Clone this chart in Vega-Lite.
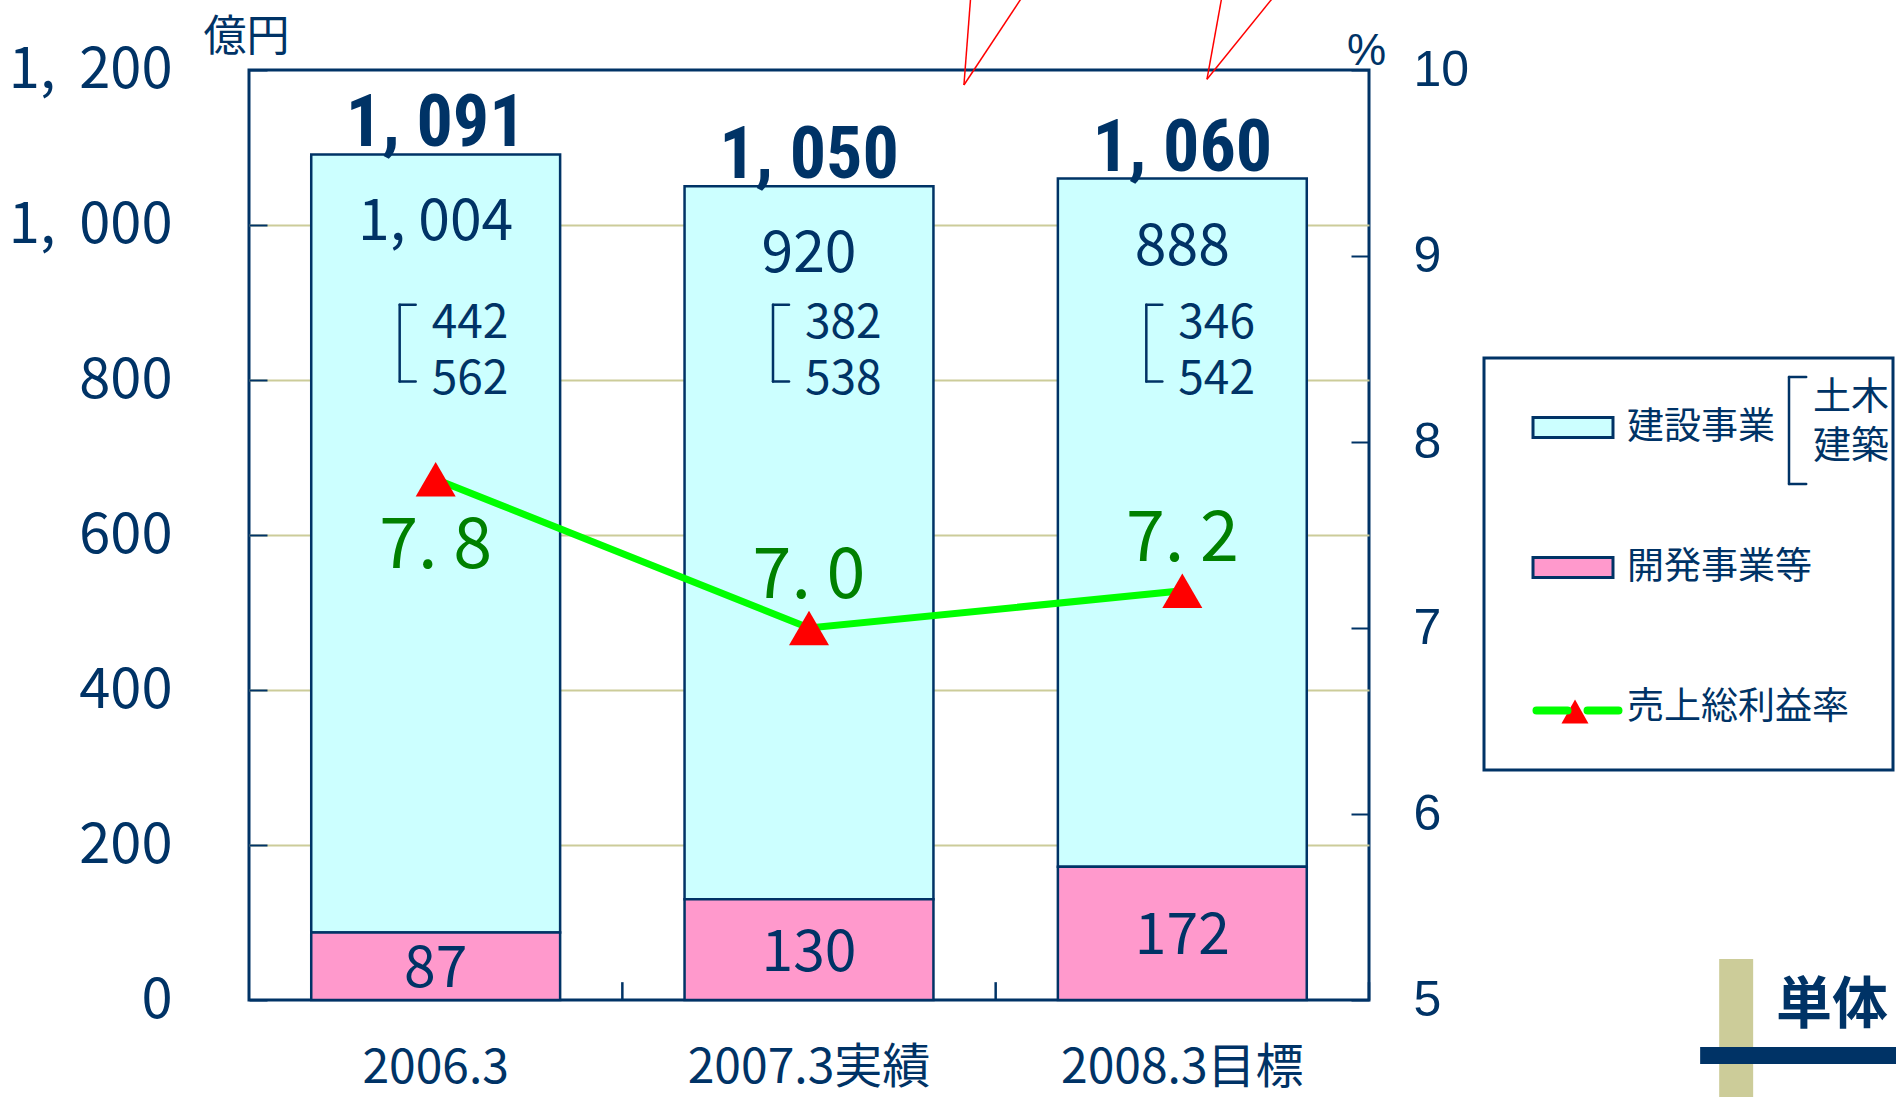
{
  "$schema": "https://vega.github.io/schema/vega-lite/v6.json",
  "width": 1120,
  "height": 930,
  "autosize": {"type": "none"},
  "padding": {"left": 249, "top": 70, "right": 527, "bottom": 97},
  "background": "white",
  "datasets": {
    "bars": [
      {"cat": "2006.3", "series": "建設事業", "value": 1004},
      {"cat": "2006.3", "series": "開発事業等", "value": 87},
      {"cat": "2007.3実績", "series": "建設事業", "value": 920},
      {"cat": "2007.3実績", "series": "開発事業等", "value": 130},
      {"cat": "2008.3目標", "series": "建設事業", "value": 888},
      {"cat": "2008.3目標", "series": "開発事業等", "value": 172}
    ],
    "summary": [
      {"cat": "2006.3", "total": 1091, "construction": 1004, "civil": 442, "building": 562, "development": 87, "rate": 7.8},
      {"cat": "2007.3実績", "total": 1050, "construction": 920, "civil": 382, "building": 538, "development": 130, "rate": 7.0},
      {"cat": "2008.3目標", "total": 1060, "construction": 888, "civil": 346, "building": 542, "development": 172, "rate": 7.2}
    ]
  },
  "layer": [
    {
      "layer": [
        {
          "layer": [
            {
              "data": {"name": "bars"},
              "mark": {"type": "bar", "stroke": "#003366", "strokeWidth": 2.5},
              "encoding": {
                "x": {
                  "field": "cat", "type": "nominal",
                  "scale": {"domain": ["2006.3", "2007.3実績", "2008.3目標"], "paddingInner": 0.3333, "paddingOuter": 0.1667},
                  "axis": {
                    "orient": "bottom", "title": null, "domain": false, "ticks": false,
                    "labelFont": "Noto Sans CJK JP", "labelFontSize": 48, "labelColor": "#003366",
                    "labelPadding": 44, "labelAngle": 0, "labelLimit": 500, "grid": false
                  }
                },
                "y": {
                  "field": "value", "type": "quantitative", "stack": "zero",
                  "scale": {"domain": [0, 1200], "nice": false},
                  "axis": {
                    "orient": "left", "values": [0, 200, 400, 600, 800, 1000, 1200],
                    "grid": true,
                    "gridColor": {"condition": {"test": "datum.value === 0 || datum.value === 1200", "value": "transparent"}, "value": "#cccc99"},
                    "gridWidth": 2, "domain": false,
                    "tickSize": -18, "tickColor": "#003366", "tickWidth": 2,
                    "labelFont": "Noto Sans CJK JP", "labelFontSize": 56, "labelColor": "#003366",
                    "labelPadding": 95, "labelFlush": false, "labelOverlap": false,
                    "labelExpr": "replace(format(datum.value, ','), ',', ', \u2009')",
                    "title": "億円", "titleAngle": 0, "titleX": -3, "titleY": -33,
                    "titleAlign": "center", "titleBaseline": "middle",
                    "titleFont": "Noto Sans CJK JP", "titleFontSize": 43, "titleFontWeight": "normal", "titleColor": "#003366"
                  }
                },
                "fill": {
                  "field": "series", "type": "nominal",
                  "scale": {"domain": ["建設事業", "開発事業等", "売上総利益率"], "range": ["#ccffff", "#ff99cc", "#ff0000"]},
                  "legend": {
                    "orient": "none", "legendX": 1235, "legendY": 288, "title": null, "direction": "vertical",
                    "symbolType": "M-0.854,-0.417H2.479V0.417H-0.854Z", "symbolSize": 2304,
                    "symbolStrokeColor": "#003366", "symbolStrokeWidth": 3, "symbolOpacity": 1,
                    "labelFont": "Noto Sans CJK JP", "labelFontSize": 37, "labelColor": "#003366",
                    "labelOffset": 48, "labelLimit": 400, "rowPadding": 96, "padding": 44,
                    "strokeColor": "#003366",
                    "encode": {
                      "legend": {"update": {"strokeWidth": {"value": 3}}},
                      "symbols": {
                        "update": {
                          "shape": {"signal": "datum.value === '売上総利益率' ? 'M0.896,-0.333L1.458,0.667L0.333,0.667Z' : 'M-0.854,-0.417H2.479V0.417H-0.854Z'"},
                          "strokeOpacity": {"signal": "datum.value === '売上総利益率' ? 0 : 1"}
                        }
                      }
                    }
                  }
                },
                "order": {"field": "series", "sort": "descending"}
              }
            },
            {
              "data": {"name": "summary"},
              "mark": {"type": "rule", "xOffset": 186.67, "color": "#003366", "strokeWidth": 2.5},
              "encoding": {
                "x": {"field": "cat", "type": "nominal"},
                "y": {"datum": 0, "type": "quantitative"},
                "y2": {"datum": 23}
              }
            },
            {
              "data": {"name": "summary"},
              "transform": [{"calculate": "replace(format(datum.total, ','), ',', ', ')", "as": "totalLabel"}],
              "mark": {"type": "text", "font": "Roboto Condensed, Noto Sans CJK JP", "fontSize": 72, "fontWeight": "bold", "color": "#003366", "baseline": "alphabetic", "dy": -8},
              "encoding": {
                "x": {"field": "cat", "type": "nominal"},
                "y": {"field": "total", "type": "quantitative"},
                "text": {"field": "totalLabel"}
              }
            },
            {
              "data": {"name": "summary"},
              "transform": [{"calculate": "replace(format(datum.construction, ','), ',', ', ')", "as": "consLabel"}],
              "mark": {"type": "text", "font": "Noto Sans CJK JP", "fontSize": 57, "color": "#003366", "baseline": "alphabetic", "dy": 86},
              "encoding": {
                "x": {"field": "cat", "type": "nominal"},
                "y": {"field": "total", "type": "quantitative"},
                "text": {"field": "consLabel"}
              }
            },
            {
              "data": {"name": "summary"},
              "transform": [{"calculate": "datum.civil + '\\n' + datum.building", "as": "subLabel"}],
              "mark": {"type": "text", "font": "Noto Sans CJK JP", "fontSize": 46, "color": "#003366", "baseline": "alphabetic", "align": "left", "dx": -4, "lineBreak": "\n", "lineHeight": 56},
              "encoding": {
                "x": {"field": "cat", "type": "nominal"},
                "y": {"datum": 854, "type": "quantitative"},
                "text": {"field": "subLabel"}
              }
            },
            {
              "data": {"name": "summary"},
              "mark": {"type": "rule", "xOffset": -36, "color": "#003366", "strokeWidth": 2.5, "strokeCap": "round"},
              "encoding": {
                "x": {"field": "cat", "type": "nominal"},
                "y": {"datum": 897, "type": "quantitative"},
                "y2": {"datum": 798}
              }
            },
            {
              "data": {"name": "summary"},
              "mark": {"type": "rule", "xOffset": -36, "x2Offset": -20, "color": "#003366", "strokeWidth": 2.5, "strokeCap": "round"},
              "encoding": {
                "x": {"field": "cat", "type": "nominal"},
                "x2": {"field": "cat"},
                "y": {"datum": 897, "type": "quantitative"}
              }
            },
            {
              "data": {"name": "summary"},
              "mark": {"type": "rule", "xOffset": -36, "x2Offset": -20, "color": "#003366", "strokeWidth": 2.5, "strokeCap": "round"},
              "encoding": {
                "x": {"field": "cat", "type": "nominal"},
                "x2": {"field": "cat"},
                "y": {"datum": 798, "type": "quantitative"}
              }
            },
            {
              "data": {"name": "summary"},
              "transform": [{"calculate": "datum.development / 2", "as": "mid"}],
              "mark": {"type": "text", "font": "Noto Sans CJK JP", "fontSize": 57, "color": "#003366", "baseline": "alphabetic", "dy": 21},
              "encoding": {
                "x": {"field": "cat", "type": "nominal"},
                "y": {"field": "mid", "type": "quantitative"},
                "text": {"field": "development"}
              }
            }
          ]
        },
        {
          "data": {"name": "summary"},
          "layer": [
            {
              "mark": {"type": "line", "strokeWidth": 7},
              "encoding": {
                "x": {"field": "cat", "type": "nominal"},
                "y": {
                  "field": "rate", "type": "quantitative",
                  "scale": {"domain": [5, 10], "nice": false, "zero": false},
                  "axis": {
                    "orient": "right", "values": [5, 6, 7, 8, 9, 10], "format": "d", "grid": false, "domain": false,
                    "tickSize": -18, "tickColor": "#003366", "tickWidth": 2,
                    "labelFont": "Liberation Sans", "labelFontSize": 50, "labelColor": "#003366",
                    "labelPadding": 62, "labelFlush": false, "labelOverlap": false,
                    "title": "%", "titleAngle": 0, "titleX": -3, "titleY": -19,
                    "titleAlign": "center", "titleBaseline": "middle",
                    "titleFont": "Liberation Sans", "titleFontSize": 44, "titleFontWeight": "normal", "titleColor": "#003366"
                  }
                },
                "stroke": {
                  "datum": "売上総利益率", "type": "nominal",
                  "scale": {"domain": ["売上総利益率"], "range": ["#00ff00"]},
                  "legend": {
                    "orient": "none", "legendX": 1285, "legendY": 619, "title": null,
                    "symbolType": "M-1.086,0H0.686M1.829,0H3.6", "symbolSize": 1225, "symbolStrokeWidth": 8,
                    "padding": 0, "labelExpr": "''", "labelFontSize": 36,
                    "encode": {"symbols": {"update": {"strokeCap": {"value": "round"}}}}
                  }
                }
              }
            },
            {
              "mark": {"type": "point", "shape": "triangle-up", "size": 1600, "filled": true, "opacity": 1, "color": "#ff0000", "strokeWidth": 0},
              "encoding": {
                "x": {"field": "cat", "type": "nominal"},
                "y": {"field": "rate", "type": "quantitative"}
              }
            },
            {
              "transform": [
                {"filter": "datum.cat === '2006.3'"},
                {"calculate": "replace(format(datum.rate, '.1f'), '.', '. ')", "as": "rateLabel"}
              ],
              "mark": {"type": "text", "font": "Noto Sans CJK JP", "fontSize": 70, "color": "#008000", "baseline": "alphabetic", "dy": 89},
              "encoding": {
                "x": {"field": "cat", "type": "nominal"},
                "y": {"field": "rate", "type": "quantitative"},
                "text": {"field": "rateLabel"}
              }
            },
            {
              "transform": [
                {"filter": "datum.cat !== '2006.3'"},
                {"calculate": "replace(format(datum.rate, '.1f'), '.', '. ')", "as": "rateLabel"}
              ],
              "mark": {"type": "text", "font": "Noto Sans CJK JP", "fontSize": 70, "color": "#008000", "baseline": "alphabetic", "dy": -30},
              "encoding": {
                "x": {"field": "cat", "type": "nominal"},
                "y": {"field": "rate", "type": "quantitative"},
                "text": {"field": "rateLabel"}
              }
            }
          ]
        }
      ],
      "resolve": {"scale": {"y": "independent"}}
    },
    {
      "data": {"values": [{}]},
      "layer": [
        {
          "mark": {"type": "rule", "color": "#ff0000", "strokeWidth": 1.5},
          "encoding": {
            "x": {"datum": 1.915, "type": "quantitative", "scale": {"domain": [0, 3], "nice": false, "zero": false}, "axis": null},
            "x2": {"datum": 1.934},
            "y": {"datum": 1180.6, "type": "quantitative", "scale": {"domain": [0, 1200], "nice": false}, "axis": null},
            "y2": {"datum": 1300}
          }
        },
        {
          "mark": {"type": "rule", "color": "#ff0000", "strokeWidth": 1.5},
          "encoding": {
            "x": {"datum": 1.915, "type": "quantitative"},
            "x2": {"datum": 2.079},
            "y": {"datum": 1180.6, "type": "quantitative"},
            "y2": {"datum": 1300}
          }
        },
        {
          "mark": {"type": "rule", "color": "#ff0000", "strokeWidth": 1.5},
          "encoding": {
            "x": {"datum": 2.566, "type": "quantitative"},
            "x2": {"datum": 2.608},
            "y": {"datum": 1188, "type": "quantitative"},
            "y2": {"datum": 1300}
          }
        },
        {
          "mark": {"type": "rule", "color": "#ff0000", "strokeWidth": 1.5},
          "encoding": {
            "x": {"datum": 2.566, "type": "quantitative"},
            "x2": {"datum": 2.754},
            "y": {"datum": 1188, "type": "quantitative"},
            "y2": {"datum": 1300}
          }
        },
        {
          "mark": {"type": "rule", "color": "#003366", "strokeWidth": 2.5, "strokeCap": "round"},
          "encoding": {
            "x": {"datum": 4.125, "type": "quantitative"},
            "y": {"datum": 803.9, "type": "quantitative"},
            "y2": {"datum": 665.8}
          }
        },
        {
          "mark": {"type": "rule", "color": "#003366", "strokeWidth": 2.5, "strokeCap": "round"},
          "encoding": {
            "x": {"datum": 4.125, "type": "quantitative"},
            "x2": {"datum": 4.171},
            "y": {"datum": 803.9, "type": "quantitative"}
          }
        },
        {
          "mark": {"type": "rule", "color": "#003366", "strokeWidth": 2.5, "strokeCap": "round"},
          "encoding": {
            "x": {"datum": 4.125, "type": "quantitative"},
            "x2": {"datum": 4.171},
            "y": {"datum": 665.8, "type": "quantitative"}
          }
        },
        {
          "mark": {"type": "text", "text": "土木", "font": "Noto Sans CJK JP", "fontSize": 38, "color": "#003366", "align": "center", "baseline": "middle"},
          "encoding": {
            "x": {"datum": 4.291, "type": "quantitative"},
            "y": {"datum": 777, "type": "quantitative"}
          }
        },
        {
          "mark": {"type": "text", "text": "建築", "font": "Noto Sans CJK JP", "fontSize": 38, "color": "#003366", "align": "center", "baseline": "middle"},
          "encoding": {
            "x": {"datum": 4.291, "type": "quantitative"},
            "y": {"datum": 713, "type": "quantitative"}
          }
        },
        {
          "mark": {"type": "rect", "color": "#cccc99"},
          "encoding": {
            "x": {"datum": 3.938, "type": "quantitative"},
            "x2": {"datum": 4.029},
            "y": {"datum": 52.9, "type": "quantitative"},
            "y2": {"datum": -130}
          }
        },
        {
          "mark": {"type": "rect", "color": "#003366"},
          "encoding": {
            "x": {"datum": 3.887, "type": "quantitative"},
            "x2": {"datum": 4.55},
            "y": {"datum": -60.6, "type": "quantitative"},
            "y2": {"datum": -82.6}
          }
        },
        {
          "mark": {"type": "text", "text": "単体", "font": "Noto Sans CJK JP", "fontSize": 56, "fontWeight": "bold", "color": "#003366", "align": "center", "baseline": "middle"},
          "encoding": {
            "x": {"datum": 4.24, "type": "quantitative"},
            "y": {"datum": -7.7, "type": "quantitative"}
          }
        }
      ]
    }
  ],
  "resolve": {"scale": {"x": "independent", "y": "independent"}},
  "config": {
    "view": {"stroke": "#003366", "strokeWidth": 3},
    "font": "Noto Sans CJK JP"
  }
}
